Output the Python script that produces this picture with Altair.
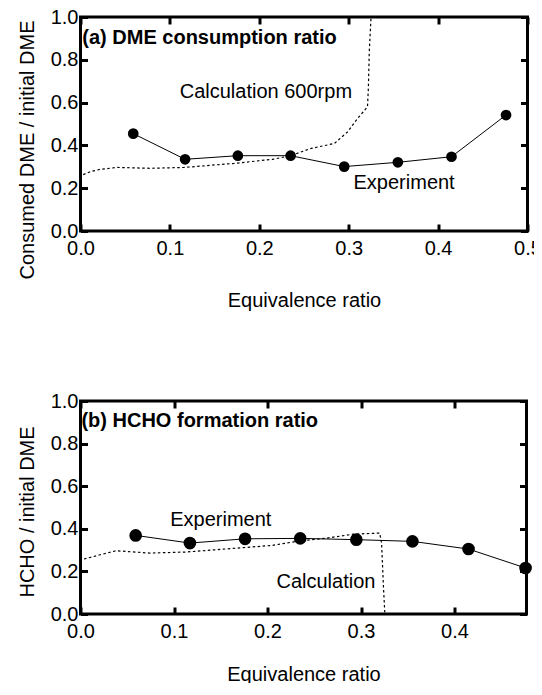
import altair as alt
import pandas as pd

# ---------------- data ----------------
# Experiment (same equivalence ratios in both panels)
phi_exp = [0.059, 0.117, 0.176, 0.235, 0.295, 0.355, 0.415, 0.476]
dme_exp = [0.455, 0.335, 0.352, 0.352, 0.301, 0.321, 0.347, 0.542]
hcho_exp = [0.369, 0.333, 0.353, 0.355, 0.349, 0.341, 0.305, 0.216]

# Calculation (600 rpm) - DME consumption ratio
dme_calc_phi = [0.000, 0.002, 0.011, 0.022, 0.041, 0.078, 0.116, 0.172, 0.215,
                0.235, 0.258, 0.284, 0.299, 0.310, 0.321, 0.322, 0.323, 0.325]
dme_calc_val = [0.245, 0.262, 0.277, 0.288, 0.297, 0.293, 0.297, 0.316, 0.335,
                0.352, 0.386, 0.409, 0.464, 0.526, 0.580, 0.666, 0.837, 1.000]

# Calculation - HCHO formation ratio
hcho_calc_phi = [0.000, 0.001, 0.021, 0.038, 0.074, 0.113, 0.205, 0.231, 0.263,
                 0.292, 0.320, 0.322, 0.324, 0.3255]
hcho_calc_val = [0.245, 0.255, 0.278, 0.297, 0.286, 0.291, 0.322, 0.341, 0.356,
                 0.375, 0.380, 0.333, 0.130, 0.000]

# Annotations
top_title = ["(a) DME consumption ratio"]
top_title_x = [0.002]
top_title_y = [0.904]
top_notes = ["Calculation 600rpm", "Experiment"]
top_notes_x = [0.111, 0.3054]
top_notes_y = [0.650, 0.223]

bot_title = ["(b) HCHO formation ratio"]
bot_title_x = [0.001]
bot_title_y = [0.907]
bot_notes = ["Experiment", "Calculation"]
bot_notes_x = [0.096, 0.2096]
bot_notes_y = [0.443, 0.152]

x_ticks_top = [0.0, 0.1, 0.2, 0.3, 0.4, 0.5]
x_ticks_bot = [0.0, 0.1, 0.2, 0.3, 0.4]
y_ticks = [0.0, 0.2, 0.4, 0.6, 0.8, 1.0]

FONT = "Liberation Sans"
TICK = 7


def panel(exp_y, calc_phi, calc_val, title, tx, ty, notes, nx, ny,
          x_dom, x_ticks, y_title, y_title_y, x_title_y, width, height, size):
    xs = alt.Scale(domain=x_dom, nice=False, zero=False)
    ys = alt.Scale(domain=[0, 1], nice=False)

    ax_bottom = alt.Axis(orient="bottom", values=x_ticks, format=".1f",
                         tickSize=TICK, tickWidth=3, tickColor="black",
                         offset=-TICK, domain=False, grid=False,
                         labelPadding=7, labelFlush=False, labelOverlap=False,
                         labelFontSize=20, labelColor="black", labelFont=FONT,
                         title="Equivalence ratio", titleFontSize=20,
                         titleFont=FONT, titleFontWeight="normal",
                         titleColor="black", titleBaseline="top",
                         titleY=x_title_y)
    ax_left = alt.Axis(orient="left", values=y_ticks, format=".1f",
                       tickSize=TICK, tickWidth=3, tickColor="black",
                       offset=-TICK, domain=False, grid=False,
                       labelPadding=2.5, labelFlush=False, labelOverlap=False,
                       labelFontSize=20, labelColor="black", labelFont=FONT,
                       title=y_title, titleFontSize=20, titleFont=FONT,
                       titleFontWeight="normal", titleColor="black",
                       titleAngle=270, titleAlign="center",
                       titleBaseline="alphabetic",
                       titleX=33 - 80.5 - TICK, titleY=y_title_y)
    ax_top = alt.Axis(orient="top", values=x_ticks, tickSize=TICK, tickWidth=3,
                      tickColor="black", offset=-TICK, domain=False,
                      grid=False, labels=False, title=None)
    ax_right = alt.Axis(orient="right", values=y_ticks, tickSize=TICK,
                        tickWidth=3, tickColor="black", offset=-TICK,
                        domain=False, grid=False, labels=False, title=None)

    exp_df = pd.DataFrame({"phi": phi_exp, "v": exp_y})
    calc_df = pd.DataFrame({"phi": calc_phi, "v": calc_val,
                            "o": list(range(len(calc_phi)))})
    t_df = pd.DataFrame({"phi": tx, "v": ty, "t": title})
    n_df = pd.DataFrame({"phi": nx, "v": ny, "t": notes})

    exp_line = alt.Chart(exp_df).mark_line(color="black", strokeWidth=1).encode(
        x=alt.X("phi:Q", scale=xs, axis=ax_bottom),
        y=alt.Y("v:Q", scale=ys, axis=ax_left))
    exp_pts = alt.Chart(exp_df).mark_circle(color="black", opacity=1,
                                            size=size).encode(
        x=alt.X("phi:Q", scale=xs, axis=None),
        y=alt.Y("v:Q", scale=ys, axis=None))
    calc_line = alt.Chart(calc_df).mark_line(
        color="black", strokeWidth=1.2, strokeDash=[2.5, 2.5]).encode(
        x=alt.X("phi:Q", scale=xs, axis=ax_top),
        y=alt.Y("v:Q", scale=ys, axis=ax_right),
        order="o:Q")
    t_txt = alt.Chart(t_df).mark_text(
        align="left", baseline="middle", font=FONT, fontSize=20,
        fontWeight="bold", color="black").encode(
        x=alt.X("phi:Q", scale=xs, axis=None),
        y=alt.Y("v:Q", scale=ys, axis=None), text="t:N")
    n_txt = alt.Chart(n_df).mark_text(
        align="left", baseline="middle", font=FONT, fontSize=20,
        color="black").encode(
        x=alt.X("phi:Q", scale=xs, axis=None),
        y=alt.Y("v:Q", scale=ys, axis=None), text="t:N")

    return alt.layer(exp_line, calc_line, exp_pts, t_txt, n_txt).properties(
        width=width, height=height)


top = panel(dme_exp, dme_calc_phi, dme_calc_val, top_title, top_title_x,
            top_title_y, top_notes, top_notes_x, top_notes_y,
            [0, 0.5], x_ticks_top, "Consumed DME / initial DME", 132.5, 66.5,
            447, 214, 115)
bottom = panel(hcho_exp, hcho_calc_phi, hcho_calc_val, bot_title, bot_title_x,
               bot_title_y, bot_notes, bot_notes_x, bot_notes_y,
               [0, 0.477], x_ticks_bot, "HCHO / initial DME", 110.5, 57,
               446, 213, 160)

chart = alt.vconcat(top, bottom, spacing=170, bounds="flush").properties(
    autosize=alt.AutoSizeParams(type="none"),
    padding={"left": 72.5, "top": 9, "right": 453.5, "bottom": 666},
    background="white",
).configure(font=FONT).configure_view(stroke="black", strokeWidth=3)

chart.save("out.html", embed_options={"renderer": "svg", "actions": False})
